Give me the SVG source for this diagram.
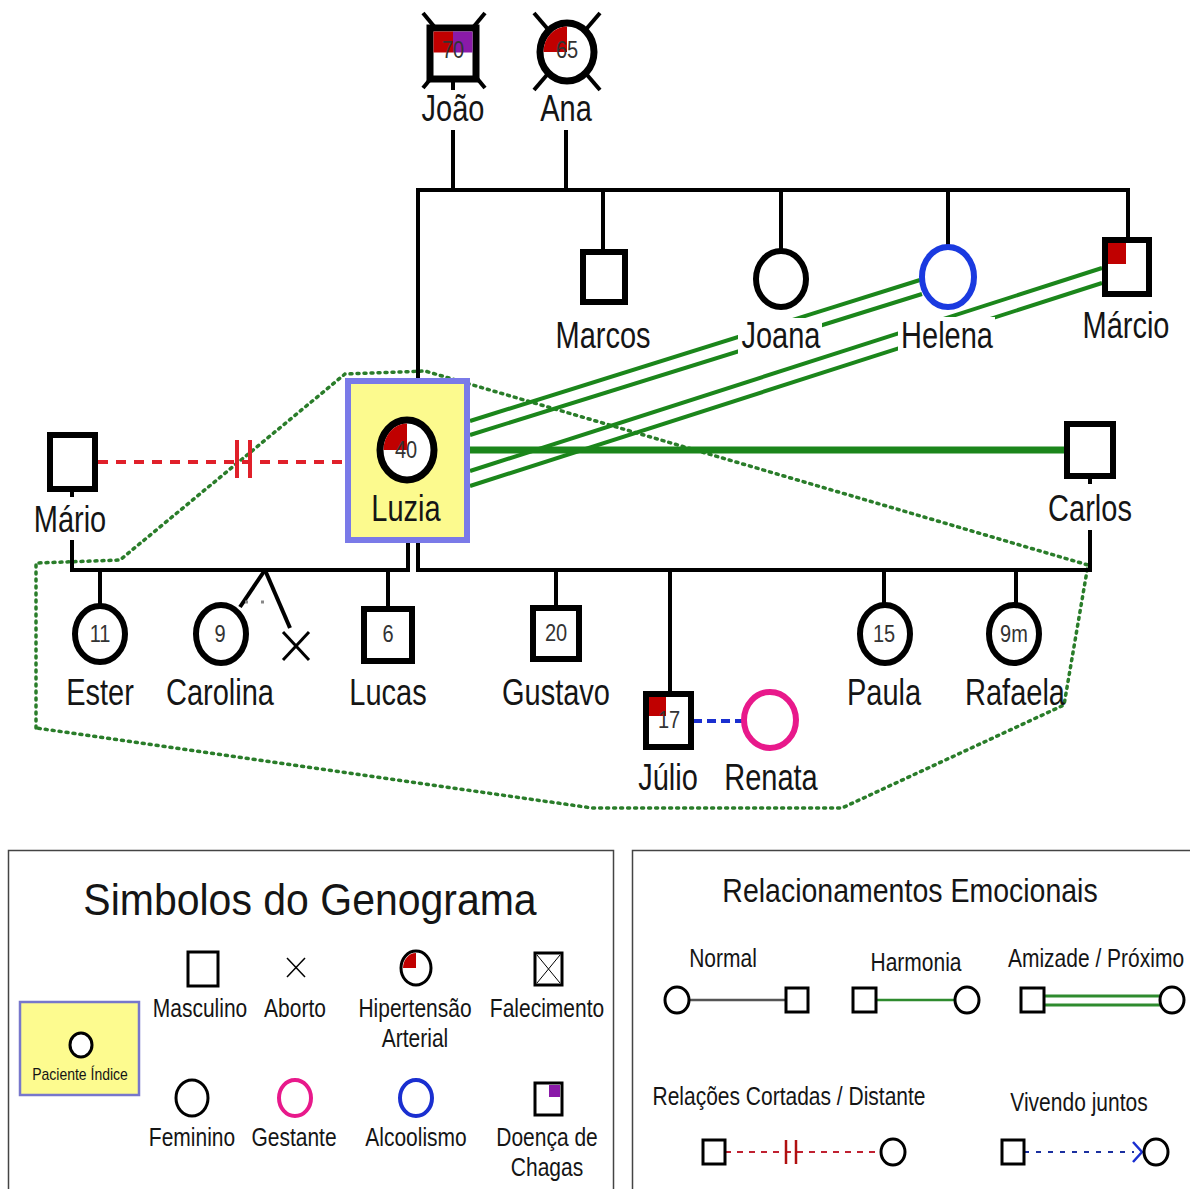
<svg xmlns="http://www.w3.org/2000/svg" width="1190" height="1189" viewBox="0 0 1190 1189">
<style>
text{font-family:"Liberation Sans",Arial,sans-serif;text-anchor:middle;fill:#151515}
.lb{font-size:29px}
.nm{font-size:20px;fill:#333}
.lg{font-size:21px}
.n{fill:#fff;stroke:#000;stroke-width:6}
.ln{stroke:#000;stroke-width:4;fill:none}
.gr{stroke:#1b861b;stroke-width:4;fill:none}
.ls{fill:#fff;stroke:#000;stroke-width:3}
</style>
<rect width="1190" height="1189" fill="#fff"/>

<g id="connectors">
  <polyline points="36,728 36,563 120,560 345,374 425,371 1088,565 1064,705 842,808 592,808 36,728" fill="none" stroke="#2a7d2a" stroke-width="3.5" stroke-dasharray="2 5" stroke-linecap="round"/>
  <line x1="98" y1="462" x2="345" y2="462" stroke="#e0202a" stroke-width="4" stroke-dasharray="10 8"/>
  <line x1="237" y1="440" x2="237" y2="478" stroke="#e0202a" stroke-width="4"/>
  <line x1="250" y1="440" x2="250" y2="478" stroke="#e0202a" stroke-width="4"/>
  <line x1="470" y1="450" x2="1065" y2="450" stroke="#1b861b" stroke-width="7"/>
  <line class="gr" x1="470" y1="421" x2="920" y2="280"/>
  <line class="gr" x1="470" y1="435" x2="922" y2="294"/>
  <line class="gr" x1="470" y1="471" x2="1102" y2="268"/>
  <line class="gr" x1="470" y1="486" x2="1102" y2="283"/>
  <line x1="693" y1="721" x2="743" y2="721" stroke="#1a2fd0" stroke-width="4" stroke-dasharray="9 5"/>
  <line class="ln" x1="453" y1="80" x2="453" y2="90"/>
  <line class="ln" x1="453" y1="130" x2="453" y2="190"/>
  <line class="ln" x1="566" y1="130" x2="566" y2="190"/>
  <line class="ln" x1="416" y1="190" x2="1130" y2="190"/>
  <line class="ln" x1="418" y1="188" x2="418" y2="378"/>
  <line class="ln" x1="603" y1="188" x2="603" y2="250"/>
  <line class="ln" x1="781" y1="188" x2="781" y2="251"/>
  <line class="ln" x1="948" y1="188" x2="948" y2="248"/>
  <line class="ln" x1="1128" y1="188" x2="1128" y2="238"/>
  <line class="ln" x1="72" y1="489" x2="72" y2="497"/>
  <line class="ln" x1="72" y1="540" x2="72" y2="572"/>
  <line class="ln" x1="70" y1="570" x2="410" y2="570"/>
  <line class="ln" x1="408" y1="543" x2="408" y2="572"/>
  <line class="ln" x1="418" y1="543" x2="418" y2="572"/>
  <line class="ln" x1="416" y1="570" x2="1092" y2="570"/>
  <line class="ln" x1="1090" y1="476" x2="1090" y2="484"/>
  <line class="ln" x1="1090" y1="530" x2="1090" y2="572"/>
  <line class="ln" x1="100" y1="570" x2="100" y2="607"/>
  <line class="ln" x1="265" y1="570" x2="240" y2="607"/>
  <line class="ln" x1="265" y1="570" x2="290" y2="628"/>
  <line x1="245" y1="602" x2="272" y2="602" stroke="#888" stroke-width="3" stroke-dasharray="3 13"/>
  <line class="ln" x1="388" y1="570" x2="388" y2="607"/>
  <line class="ln" x1="556" y1="570" x2="556" y2="607"/>
  <line class="ln" x1="670" y1="570" x2="670" y2="692"/>
  <line class="ln" x1="884" y1="570" x2="884" y2="606"/>
  <line class="ln" x1="1016" y1="570" x2="1016" y2="606"/>
</g>

<g id="joao">
  <line x1="423" y1="13" x2="485" y2="88" stroke="#000" stroke-width="4"/>
  <line x1="485" y1="13" x2="423" y2="88" stroke="#000" stroke-width="4"/>
  <rect x="430" y="28" width="46" height="51" fill="#fff" stroke="#000" stroke-width="7"/>
  <rect x="433.5" y="31.5" width="19.5" height="21" fill="#c00000"/>
  <rect x="453" y="31.5" width="19.5" height="21" fill="#8a1aa8"/>
  <text class="nm" transform="translate(453 58) scale(1 1.2)">70</text>
  <text class="lb" transform="translate(453 121) scale(1 1.25)">João</text>
</g>
<g id="ana">
  <line x1="534" y1="13" x2="600" y2="90" stroke="#000" stroke-width="4"/>
  <line x1="600" y1="13" x2="534" y2="90" stroke="#000" stroke-width="4"/>
  <ellipse cx="567" cy="52" rx="27" ry="29" fill="#fff" stroke="#000" stroke-width="7"/>
  <path d="M567,52 L567,26.5 A23.5,25.5 0 0 0 543.5,52 Z" fill="#c00000"/>
  <text class="nm" transform="translate(567 58) scale(1 1.2)">65</text>
  <text class="lb" transform="translate(566 121) scale(1 1.25)">Ana</text>
</g>
<g id="marcos">
  <rect class="n" x="583" y="252" width="42" height="50"/>
  <text class="lb" transform="translate(603 348) scale(1 1.25)">Marcos</text>
</g>
<g id="joana">
  <ellipse class="n" cx="781" cy="279" rx="25" ry="28"/>
  <rect x="738" y="318" width="84" height="37" fill="#fff"/>
  <text class="lb" transform="translate(781 348) scale(1 1.25)">Joana</text>
</g>
<g id="helena">
  <ellipse cx="948" cy="277" rx="26" ry="30" fill="#fff" stroke="#1a3ae0" stroke-width="6"/>
  <rect x="898" y="317" width="97" height="38" fill="#fff"/>
  <text class="lb" transform="translate(947 348) scale(1 1.25)">Helena</text>
</g>
<g id="marcio">
  <rect class="n" x="1105" y="240" width="44" height="54"/>
  <rect x="1108" y="243" width="18" height="21" fill="#c00000"/>
  <text class="lb" transform="translate(1126 338) scale(1 1.25)">Márcio</text>
</g>
<g id="luzia">
  <rect x="348" y="381" width="119" height="159" fill="#fcfa8e" stroke="#7a7ae8" stroke-width="6"/>
  <ellipse cx="407" cy="450" rx="27" ry="30" fill="#fff" stroke="#000" stroke-width="7"/>
  <path d="M407,450 L407,423.5 A23.5,26.5 0 0 0 383.5,450 Z" fill="#c00000"/>
  <text class="nm" transform="translate(406 458) scale(1 1.2)">40</text>
  <text class="lb" transform="translate(406 521) scale(1 1.25)">Luzia</text>
</g>
<g id="mario">
  <rect class="n" x="50" y="435" width="45" height="54"/>
  <text class="lb" transform="translate(70 532) scale(1 1.25)">Mário</text>
</g>
<g id="carlos">
  <rect class="n" x="1067" y="424" width="46" height="52"/>
  <text class="lb" transform="translate(1090 521) scale(1 1.25)">Carlos</text>
</g>
<g id="ester">
  <ellipse class="n" cx="100" cy="634" rx="25" ry="28"/>
  <text class="nm" transform="translate(100 642) scale(1 1.2)">11</text>
  <text class="lb" transform="translate(100 705) scale(1 1.25)">Ester</text>
</g>
<g id="carolina">
  <ellipse class="n" cx="221" cy="634" rx="25" ry="29"/>
  <text class="nm" transform="translate(220 642) scale(1 1.2)">9</text>
  <text class="lb" transform="translate(220 705) scale(1 1.25)">Carolina</text>
</g>
<g id="aborto">
  <line x1="283" y1="632" x2="309" y2="660" stroke="#000" stroke-width="3"/>
  <line x1="309" y1="632" x2="283" y2="660" stroke="#000" stroke-width="3"/>
</g>
<g id="lucas">
  <rect class="n" x="364" y="609" width="48" height="52"/>
  <text class="nm" transform="translate(388 642) scale(1 1.2)">6</text>
  <text class="lb" transform="translate(388 705) scale(1 1.25)">Lucas</text>
</g>
<g id="gustavo">
  <rect class="n" x="533" y="608" width="46" height="51"/>
  <text class="nm" transform="translate(556 641) scale(1 1.2)">20</text>
  <text class="lb" transform="translate(556 705) scale(1 1.25)">Gustavo</text>
</g>
<g id="julio">
  <rect class="n" x="646" y="694" width="45" height="53"/>
  <rect x="649" y="697" width="17" height="19" fill="#c00000"/>
  <text class="nm" transform="translate(669 728) scale(1 1.2)">17</text>
  <text class="lb" transform="translate(668 790) scale(1 1.25)">Júlio</text>
</g>
<g id="renata">
  <ellipse cx="770" cy="720" rx="26" ry="28" fill="#fff" stroke="#e8198b" stroke-width="6"/>
  <text class="lb" transform="translate(771 790) scale(1 1.25)">Renata</text>
</g>
<g id="paula">
  <ellipse class="n" cx="885" cy="634" rx="25" ry="29"/>
  <text class="nm" transform="translate(884 642) scale(1 1.2)">15</text>
  <text class="lb" transform="translate(884 705) scale(1 1.25)">Paula</text>
</g>
<g id="rafaela">
  <ellipse class="n" cx="1014" cy="634" rx="25" ry="29"/>
  <text class="nm" transform="translate(1014 642) scale(1 1.2)">9m</text>
  <text class="lb" transform="translate(1015 705) scale(1 1.25)">Rafaela</text>
</g>

<g id="legend-simbolos">
  <rect x="8.5" y="850.5" width="605" height="345" fill="#fff" stroke="#444" stroke-width="1.5"/>
  <text transform="translate(310 915) scale(1 1.1)" font-size="41">Simbolos do Genograma</text>
  <rect x="20" y="1002" width="119" height="93" fill="#fdfb8f" stroke="#7777cc" stroke-width="2.5"/>
  <ellipse class="ls" cx="81" cy="1045" rx="11" ry="12"/>
  <text transform="translate(80 1080) scale(1 1.15)" font-size="14">Paciente Índice</text>
  <rect class="ls" x="188" y="952" width="30" height="34" stroke-width="4"/>
  <text class="lg" transform="translate(200 1017) scale(1 1.2)">Masculino</text>
  <line x1="287" y1="958" x2="305" y2="977" stroke="#000" stroke-width="1.5"/>
  <line x1="305" y1="958" x2="287" y2="977" stroke="#000" stroke-width="1.5"/>
  <text class="lg" transform="translate(295 1017) scale(1 1.2)">Aborto</text>
  <ellipse class="ls" cx="416" cy="968" rx="15" ry="17" stroke-width="4"/>
  <path d="M416,968 L416,953 A13,15 0 0 0 403,968 Z" fill="#c00000"/>
  <text class="lg" transform="translate(415 1017) scale(1 1.2)">Hipertensão</text>
  <text class="lg" transform="translate(415 1047) scale(1 1.2)">Arterial</text>
  <rect class="ls" x="535" y="953" width="27" height="32" stroke-width="4"/>
  <line x1="537" y1="955" x2="560" y2="983" stroke="#000" stroke-width="1"/>
  <line x1="560" y1="955" x2="537" y2="983" stroke="#000" stroke-width="1"/>
  <text class="lg" transform="translate(547 1017) scale(1 1.2)">Falecimento</text>
  <ellipse class="ls" cx="192" cy="1098" rx="16" ry="18" stroke-width="4"/>
  <text class="lg" transform="translate(192 1146) scale(1 1.2)">Feminino</text>
  <ellipse cx="295" cy="1098" rx="16" ry="18" fill="#fff" stroke="#e8198b" stroke-width="4"/>
  <text class="lg" transform="translate(294 1146) scale(1 1.2)">Gestante</text>
  <ellipse cx="416" cy="1098" rx="16" ry="18" fill="#fff" stroke="#1a2fd0" stroke-width="4"/>
  <text class="lg" transform="translate(416 1146) scale(1 1.2)">Alcoolismo</text>
  <rect class="ls" x="535" y="1083" width="27" height="32" stroke-width="4"/>
  <rect x="549" y="1085" width="11" height="12" fill="#8a1aa8"/>
  <text class="lg" transform="translate(547 1146) scale(1 1.2)">Doença de</text>
  <text class="lg" transform="translate(547 1176) scale(1 1.2)">Chagas</text>
</g>

<g id="legend-relacionamentos">
  <rect x="632.5" y="850.5" width="565" height="345" fill="#fff" stroke="#444" stroke-width="1.5"/>
  <text transform="translate(910 902) scale(1 1.15)" font-size="28.5">Relacionamentos Emocionais</text>
  <text class="lg" transform="translate(723 967) scale(1 1.2)">Normal</text>
  <line x1="689" y1="1000" x2="786" y2="1000" stroke="#555" stroke-width="2.5"/>
  <ellipse class="ls" cx="677" cy="1000" rx="12" ry="13"/>
  <rect class="ls" x="786" y="988" width="22" height="24"/>
  <text class="lg" transform="translate(916 971) scale(1 1.2)">Harmonia</text>
  <line x1="876" y1="1000" x2="955" y2="1000" stroke="#2e8b2e" stroke-width="2.5"/>
  <rect class="ls" x="853" y="988" width="23" height="24"/>
  <ellipse class="ls" cx="967" cy="1000" rx="12" ry="13"/>
  <text class="lg" transform="translate(1096 967) scale(1 1.2)">Amizade / Próximo</text>
  <line x1="1044" y1="996" x2="1160" y2="996" stroke="#2e8b2e" stroke-width="3"/>
  <line x1="1044" y1="1005" x2="1160" y2="1005" stroke="#2e8b2e" stroke-width="3"/>
  <rect class="ls" x="1021" y="988" width="23" height="24"/>
  <ellipse class="ls" cx="1172" cy="1000" rx="12" ry="13"/>
  <text class="lg" transform="translate(789 1105) scale(1 1.2)">Relações Cortadas / Distante</text>
  <line x1="725" y1="1152" x2="881" y2="1152" stroke="#c02030" stroke-width="2" stroke-dasharray="6 6"/>
  <line x1="786" y1="1140" x2="786" y2="1164" stroke="#b01010" stroke-width="2.5"/>
  <line x1="796" y1="1140" x2="796" y2="1164" stroke="#b01010" stroke-width="2.5"/>
  <rect class="ls" x="703" y="1140" width="22" height="24"/>
  <ellipse class="ls" cx="893" cy="1152" rx="12" ry="13"/>
  <text class="lg" transform="translate(1079 1111) scale(1 1.2)">Vivendo juntos</text>
  <line x1="1024" y1="1152" x2="1134" y2="1152" stroke="#1a2fa0" stroke-width="2" stroke-dasharray="5 7"/>
  <polyline points="1133,1142 1142,1152 1133,1162" fill="none" stroke="#1a2fd0" stroke-width="2.5"/>
  <rect class="ls" x="1002" y="1140" width="22" height="24"/>
  <ellipse class="ls" cx="1156" cy="1152" rx="12" ry="13"/>
</g>
</svg>
